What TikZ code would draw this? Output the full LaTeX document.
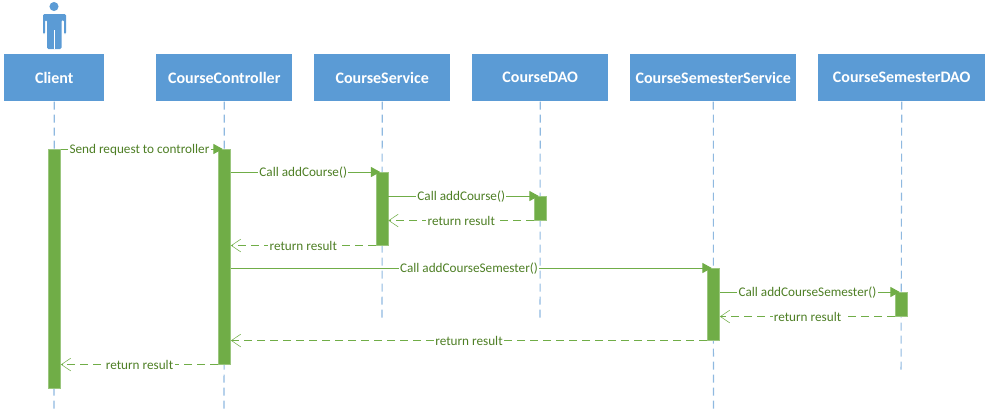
\documentclass[tikz,border=0pt]{standalone}
\usepackage{fontspec}
\setmainfont{Carlito}
\usetikzlibrary{arrows.meta}
\definecolor{boxblue}{HTML}{5B9BD5}
\definecolor{lineblue}{HTML}{8FB9E0}
\definecolor{bargreen}{HTML}{70AD47}
\definecolor{textgreen}{HTML}{4E7F25}
\tikzset{
  px/.style={x=0.75pt,y=-0.75pt},
  lifebox/.style={fill=boxblue,text=white,font=\fontsize{12}{14}\selectfont\bfseries,minimum height=35.25pt,inner sep=0pt,anchor=north west},
  lifeline/.style={lineblue,line width=0.8pt,dash pattern=on 6pt off 3.75pt},
  actbar/.style={fill=bargreen,draw=bargreen!70!white,line width=0.4pt,minimum width=9.2pt,inner sep=0pt,anchor=north},
  callarrow/.style={bargreen,line width=0.75pt,-{Triangle[length=7pt,width=7.5pt]},shorten >=-3.5pt},
  backarrow/.style={bargreen,line width=0.75pt,dash pattern=on 6pt off 3.75pt,-{Straight Barb[length=7pt,width=9.5pt,line width=0.4pt]}},
  msg/.style={midway,yshift=-0.6pt,fill=white,text=textgreen,inner sep=1pt,font=\fontsize{9.9}{12}\selectfont}
}
\begin{document}
\begin{tikzpicture}[px]
    \useasboundingbox (0,0) rectangle (988,411);
    %actor
    \fill[boxblue] (54,6.5) circle [radius=3.4pt];
    \fill[boxblue,rounded corners=1pt] (43,34)--(43,14)--(66,14)--(66,34)--(64,34)--(64,20)--(61.5,20)--(61.5,49)--(47,49)--(47,20)--(45,20)--(45,34)--cycle;
    \draw[white,line width=0.4pt] (54,30)--(54,49);
    %lifelines
    \node[lifebox,minimum width=75pt] (client) at (4,54) {Client};
    \node[lifebox,minimum width=102pt] (ctrl) at (156,54) {CourseController};
    \node[lifebox,minimum width=102pt] (svc) at (314,54) {CourseService};
    \node[lifebox,minimum width=102pt] (dao) at (472,54) {CourseDAO};
    \node[lifebox,minimum width=124.5pt] (semsvc) at (630,54) {CourseSemesterService};
    \node[lifebox,minimum width=125.25pt] (semdao) at (818,54) {CourseSemesterDAO};
    \coordinate (clientend) at (54,411);
    \coordinate (ctrlend) at (224,411);
    \coordinate (svcend) at (382,320);
    \coordinate (daoend) at (540,320);
    \coordinate (semsvcend) at (713.5,411);
    \coordinate (semdaoend) at (901,374);
    \draw[lifeline] (client.south)--(clientend);
    \draw[lifeline] (ctrl.south)--(ctrlend);
    \draw[lifeline] (svc.south)--(svcend);
    \draw[lifeline] (dao.south)--(daoend);
    \draw[lifeline] (semsvc.south)--(semsvcend);
    \draw[lifeline] (semdao.south)--(semdaoend);
    %activation bars
    \node[actbar,minimum height=179.25pt] (clientbar) at (54.5,149) {};
    \node[actbar,minimum height=161.25pt] (ctrlbar) at (224.5,149) {};
    \node[actbar,minimum height=54.75pt] (svcbar) at (382,172) {};
    \node[actbar,minimum height=18pt] (daobar) at (540.5,196) {};
    \node[actbar,minimum height=54pt] (semsvcbar) at (713.5,268) {};
    \node[actbar,minimum height=18pt] (semdaobar) at (901.5,292) {};
    %calls
    \draw[callarrow] (clientbar.north east)--(ctrlbar.north west) node[msg]{Send request to controller};
    \draw[callarrow] (ctrlbar.east |- svcbar.north)--(svcbar.north west) node[msg]{Call addCourse()};
    \draw[callarrow] (svcbar.east |- daobar.north)--(daobar.north west) node[msg]{Call addCourse()};
    \draw[callarrow] (ctrlbar.east |- semsvcbar.north)--(semsvcbar.north west) node[msg]{Call addCourseSemester()};
    \draw[callarrow] (semsvcbar.east |- semdaobar.north)--(semdaobar.north west) node[msg]{Call addCourseSemester()};
    %returns
    \draw[backarrow] (daobar.south west)--(svcbar.east |- daobar.south) node[msg]{return result};
    \draw[backarrow] (svcbar.south west)--(ctrlbar.east |- svcbar.south) node[msg]{return result};
    \draw[backarrow] (semdaobar.south west)--(semsvcbar.east |- semdaobar.south) node[msg]{return result};
    \draw[backarrow] (semsvcbar.south west)--(ctrlbar.east |- semsvcbar.south) node[msg]{return result};
    \draw[backarrow] (ctrlbar.south west)--(clientbar.east |- ctrlbar.south) node[msg]{return result};
\end{tikzpicture}
\end{document}
